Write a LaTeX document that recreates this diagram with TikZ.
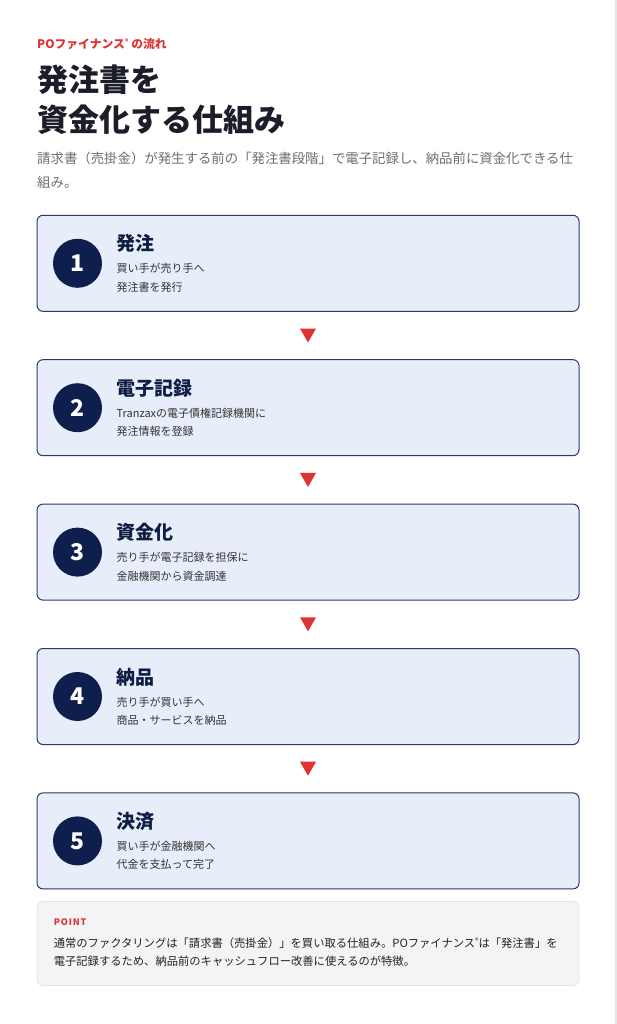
\documentclass[tikz,border=0pt]{standalone}
\usepackage{fontspec}
\setmainfont{Noto Sans CJK JP}
\usetikzlibrary{calc, positioning}

\definecolor{navy}{HTML}{0F1F4D}
\definecolor{boxline}{HTML}{2A3866}
\definecolor{boxfill}{HTML}{E8EEF9}
\definecolor{titlenavy}{HTML}{0F1D45}
\definecolor{notegray}{HTML}{333333}
\definecolor{markred}{HTML}{DD3333}
\definecolor{headblack}{HTML}{1B1E28}
\definecolor{descgray}{HTML}{6B6E76}
\definecolor{pointfill}{HTML}{F4F4F6}
\definecolor{pointline}{HTML}{E3E3E8}
\definecolor{pointtext}{HTML}{222222}
\definecolor{edgegray}{HTML}{E6E6E6}

\newcommand{\regmark}{{\fontsize{7}{7}\selectfont\raisebox{0.5em}{®}}}

\begin{document}
\begin{tikzpicture}[x=1pt,y=-1pt,
    stepbox/.style={draw=boxline, fill=boxfill, line width=1pt, rounded corners=6pt,
        minimum width=542pt, minimum height=96pt, inner sep=0pt},
    numdot/.style={circle, fill=navy, minimum size=49pt, inner sep=0pt, text=white,
        font=\fontsize{23}{23}\selectfont\bfseries},
    steptitle/.style={anchor=base west, inner sep=0pt, text=titlenavy,
        font=\fontsize{19}{19}\selectfont\bfseries},
    stepnote/.style={anchor=base west, inner sep=0pt, text=notegray,
        font=\fontsize{11}{11}\selectfont},
    downmark/.style={fill=markred},
    pointbox/.style={draw=pointline, fill=pointfill, line width=0.8pt, rounded corners=6pt,
        minimum width=542pt, minimum height=84pt, inner sep=0pt},
    pointnote/.style={anchor=base west, inner sep=0pt, text=pointtext,
        font=\fontsize{11.3}{11.3}\selectfont}]
    \fill[white] (0,0) rectangle (617,1024);
    \useasboundingbox (0,0) rectangle (617,1024);
    \draw[edgegray, line width=1.5pt] (616.2,0) -- (616.2,1024);

    % heading
    \node[anchor=base west, inner sep=0pt, text=markred, font=\fontsize{11.8}{11.8}\selectfont\bfseries] (kicker) at (37,48.4) {POファイナンス\regmark{} の流れ};
    \node[anchor=base west, inner sep=0pt, text=headblack, font=\fontsize{31}{31}\selectfont\bfseries] (head1) at (37,91.5) {発注書を};
    \node[anchor=base west, inner sep=0pt, text=headblack, font=\fontsize{31}{31}\selectfont\bfseries] (head2) at (37,131.5) {資金化する仕組み};
    \node[anchor=base west, inner sep=0pt, text=descgray, font=\fontsize{13.4}{13.4}\selectfont] (desc1) at (37,164) {請求書（売掛金）が発生する前の「発注書段階」で電子記録し、納品前に資金化できる仕};
    \node[anchor=base west, inner sep=0pt, text=descgray, font=\fontsize{13.4}{13.4}\selectfont] (desc2) at (37,187.6) {組み。};

    % steps
    \node[stepbox] (b1) at (308,263.3) {};
    \node[stepbox, below=47.4pt of b1] (b2) {};
    \node[stepbox, below=47.4pt of b2] (b3) {};
    \node[stepbox, below=47.4pt of b3] (b4) {};
    \node[stepbox, below=47.4pt of b4] (b5) {};

    \node[numdot] (n1) at ($(b1.west)+(41,0)$) {1};
    \node[steptitle] (t1) at ($(b1.north west)+(80,36)$) {発注};
    \node[stepnote] (s1a) at ($(b1.north west)+(80,58)$) {買い手が売り手へ};
    \node[stepnote] (s1b) at ($(b1.north west)+(80,76.5)$) {発注書を発行};

    \node[numdot] (n2) at ($(b2.west)+(41,0)$) {2};
    \node[steptitle] (t2) at ($(b2.north west)+(80,36)$) {電子記録};
    \node[stepnote] (s2a) at ($(b2.north west)+(80,58)$) {Tranzaxの電子債権記録機関に};
    \node[stepnote] (s2b) at ($(b2.north west)+(80,76.5)$) {発注情報を登録};

    \node[numdot] (n3) at ($(b3.west)+(41,0)$) {3};
    \node[steptitle] (t3) at ($(b3.north west)+(80,36)$) {資金化};
    \node[stepnote] (s3a) at ($(b3.north west)+(80,58)$) {売り手が電子記録を担保に};
    \node[stepnote] (s3b) at ($(b3.north west)+(80,76.5)$) {金融機関から資金調達};

    \node[numdot] (n4) at ($(b4.west)+(41,0)$) {4};
    \node[steptitle] (t4) at ($(b4.north west)+(80,36)$) {納品};
    \node[stepnote] (s4a) at ($(b4.north west)+(80,58)$) {売り手が買い手へ};
    \node[stepnote] (s4b) at ($(b4.north west)+(80,76.5)$) {商品・サービスを納品};

    \node[numdot] (n5) at ($(b5.west)+(41,0)$) {5};
    \node[steptitle] (t5) at ($(b5.north west)+(80,36)$) {決済};
    \node[stepnote] (s5a) at ($(b5.north west)+(80,58)$) {買い手が金融機関へ};
    \node[stepnote] (s5b) at ($(b5.north west)+(80,76.5)$) {代金を支払って完了};

    % red marks between steps
    \coordinate (m1) at ($(b1.south)!0.5!(b2.north)$);
    \coordinate (m2) at ($(b2.south)!0.5!(b3.north)$);
    \coordinate (m3) at ($(b3.south)!0.5!(b4.north)$);
    \coordinate (m4) at ($(b4.south)!0.5!(b5.north)$);
    \fill[downmark] ($(m1)+(-8,-7)$) -- ($(m1)+(8,-7)$) -- ($(m1)+(0,7)$) -- cycle;
    \fill[downmark] ($(m2)+(-8,-7)$) -- ($(m2)+(8,-7)$) -- ($(m2)+(0,7)$) -- cycle;
    \fill[downmark] ($(m3)+(-8,-7)$) -- ($(m3)+(8,-7)$) -- ($(m3)+(0,7)$) -- cycle;
    \fill[downmark] ($(m4)+(-8,-7)$) -- ($(m4)+(8,-7)$) -- ($(m4)+(0,7)$) -- cycle;

    % point box
    \node[pointbox] (pt) at (308,943.5) {};
    \node[anchor=base west, inner sep=0pt, text=markred, font=\fontsize{9}{9}\selectfont\bfseries\addfontfeature{LetterSpace=10}] (ptlabel) at ($(pt.north west)+(17,24)$) {POINT};
    \node[pointnote] (pt1) at ($(pt.north west)+(17,46)$) {通常のファクタリングは「請求書（売掛金）」を買い取る仕組み。POファイナンス\regmark{}は「発注書」を};
    \node[pointnote] (pt2) at ($(pt.north west)+(17,64)$) {電子記録するため、納品前のキャッシュフロー改善に使えるのが特徴。};
\end{tikzpicture}
\end{document}
